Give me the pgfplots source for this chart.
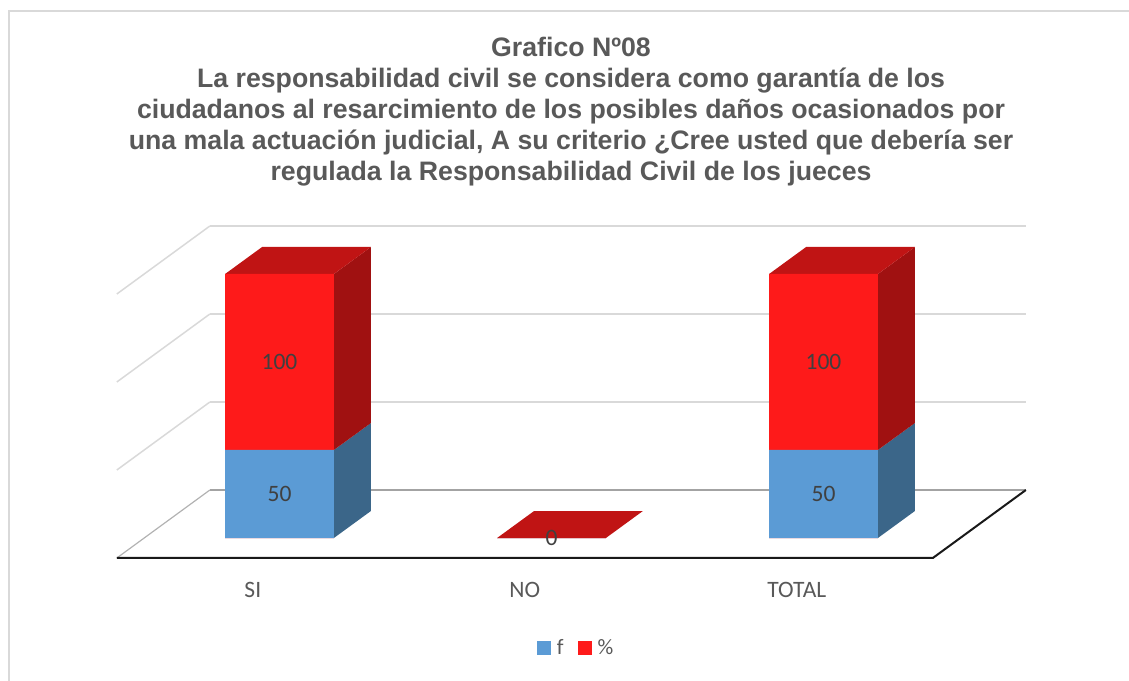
\documentclass[border=0pt]{standalone}
\usepackage{pgfplots}
\pgfplotsset{compat=1.18}
\usepackage{pgfplotstable}
\usepackage{fontspec}
\setmainfont{Carlito}
\newfontfamily\titlefont{Liberation Sans}
\definecolor{blueF}{HTML}{5B9BD5}
\definecolor{blueS}{HTML}{3B6689}
\definecolor{redF}{HTML}{FE1A1A}
\definecolor{redS}{HTML}{A01111}
\definecolor{redT}{HTML}{C01414}
\definecolor{gridg}{HTML}{D9D9D9}
\definecolor{floorg}{HTML}{A3A3A3}
\definecolor{titleg}{HTML}{595959}
\definecolor{labg}{HTML}{404040}
\definecolor{frameg}{HTML}{D9D9D9}

\pgfplotstableread{
x f p
0 50 100
1 0 0
2 50 100
}\bars

\pgfplotstableread{
x y lab
0 25 50
0 100 100
1 0 0
2 25 50
2 100 100
}\labels

\pgfplotsset{sq legend/.style={legend image code/.code={\fill[##1] (0pt,-7pt) rectangle (14pt,7pt);}}}

\begin{document}
\begin{tikzpicture}
\useasboundingbox (0,0) rectangle (1129pt,680pt);
\draw[frameg, line width=2pt] (9pt,-10pt) -- (9pt,669pt) -- (1140pt,669pt);
\node[align=center, anchor=north, inner sep=0pt, text=titleg,
      font=\titlefont\bfseries\fontsize{26.7}{31}\selectfont] at (571pt,643pt)
 {Grafico Nº08\\
  La responsabilidad civil se considera como garantía de los\\
  ciudadanos al resarcimiento de los posibles daños ocasionados por\\
  una mala actuación judicial, A su criterio ¿Cree usted que debería ser\\
  regulada la Responsabilidad Civil de los jueces};
\begin{axis}[
  at={(116.3pt,121.76pt)}, anchor=south west,
  scale only axis, width=911.2pt, height=334.4pt,
  xmin=-0.6, xmax=2.75, ymin=-11.5, ymax=178.5,
  clip=false,
  axis line style={draw=none}, tick style={draw=none},
  ytick=\empty,
  xtick={-0.098,0.902,1.902}, xticklabels={SI,NO,TOTAL},
  xticklabel style={anchor=base, yshift=-39.3pt, font=\fontsize{23.5}{28}\selectfont, text=titleg},
  legend style={at={(0.5045,-0.2675)}, anchor=center, draw=none, fill=none,
    legend columns=-1, font=\fontsize{22}{26}\selectfont, text=titleg,
    /tikz/every odd column/.append style={column sep=4pt},
    /tikz/every even column/.append style={column sep=12pt}},
]
% back wall gridlines
\addplot[gridg, line width=1.5pt, forget plot] coordinates {(-0.256,77.27) (2.744,77.27)};
\addplot[gridg, line width=1.5pt, forget plot] coordinates {(-0.256,127.27) (2.744,127.27)};
\addplot[gridg, line width=1.5pt, forget plot] coordinates {(-0.256,177.27) (2.744,177.27)};
% left wall gridlines
\addplot[gridg, line width=1.5pt, forget plot] coordinates {(-0.598,38.64) (-0.256,77.27)};
\addplot[gridg, line width=1.5pt, forget plot] coordinates {(-0.598,88.64) (-0.256,127.27)};
\addplot[gridg, line width=1.5pt, forget plot] coordinates {(-0.598,138.64) (-0.256,177.27)};
% floor
\addplot[floorg, line width=2pt, forget plot] coordinates {(-0.256,27.27) (2.744,27.27)};
\addplot[gray!60, line width=1.2pt, forget plot] coordinates {(-0.598,-11.36) (-0.256,27.27)};
\addplot[black!90, line width=2pt, forget plot] coordinates {(-0.598,-11.36) (2.402,-11.36) (2.744,27.27)};
% side and top faces
\addplot[fill=blueS, draw=none, forget plot] coordinates {(0.2,0) (0.336,15.34) (0.336,65.34) (0.2,50)};
\addplot[fill=redS, draw=none, forget plot] coordinates {(0.2,50) (0.336,65.34) (0.336,165.34) (0.2,150)};
\addplot[fill=redT, draw=none, forget plot] coordinates {(-0.2,150) (0.2,150) (0.336,165.34) (-0.064,165.34)};
\addplot[fill=blueS, draw=none, forget plot] coordinates {(2.2,0) (2.336,15.34) (2.336,65.34) (2.2,50)};
\addplot[fill=redS, draw=none, forget plot] coordinates {(2.2,50) (2.336,65.34) (2.336,165.34) (2.2,150)};
\addplot[fill=redT, draw=none, forget plot] coordinates {(1.8,150) (2.2,150) (2.336,165.34) (1.936,165.34)};
\addplot[fill=redT, draw=none, forget plot] coordinates {(0.8,0) (1.2,0) (1.336,15.34) (0.936,15.34)};
% front faces
\addplot[ybar, bar width=0.4, bar shift=0pt, fill=redF, draw=none, forget plot]
  table[x=x, y expr=\thisrow{f}+\thisrow{p}] {\bars};
\addplot[ybar, bar width=0.4, bar shift=0pt, fill=blueF, draw=none, sq legend]
  table[x=x, y=f] {\bars};
\addlegendentry{f}
\addlegendimage{sq legend, fill=redF, draw=none}
\addlegendentry{\%}
% data labels
\addplot[only marks, mark=none, forget plot, nodes near coords, point meta=explicit symbolic,
  every node near coord/.style={anchor=center, inner sep=0pt, font=\fontsize{23.5}{28}\selectfont, text=labg}]
  table[x=x, y=y, meta=lab] {\labels};
\end{axis}
\end{tikzpicture}
\end{document}
